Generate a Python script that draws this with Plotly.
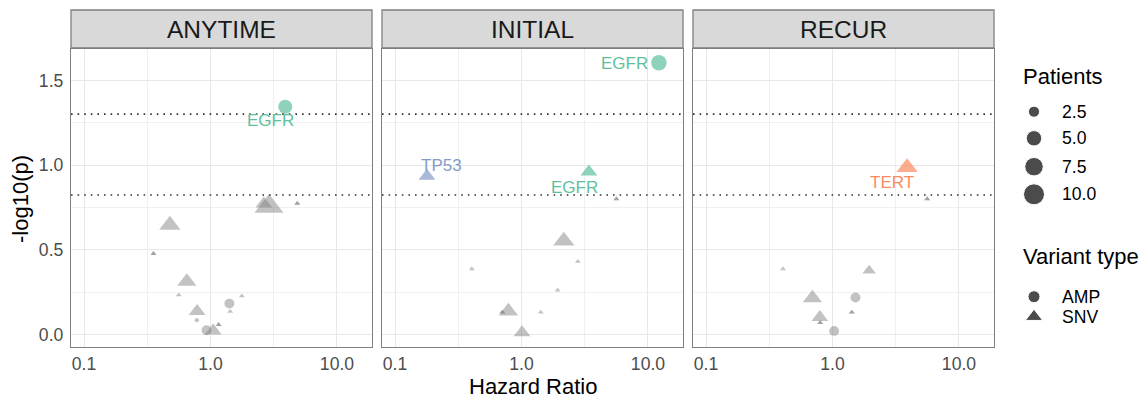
import numpy as np
import plotly.graph_objects as go

# ---------------- data ----------------
panels = ["ANYTIME", "INITIAL", "RECUR"]

anytime_hr = [3.90, 2.90, 2.64, 4.85, 4.85, 0.477, 0.354, 0.354, 0.650, 0.561, 0.784, 0.78, 1.41, 1.43, 1.77, 0.93, 1.05, 1.16, 1.16]
anytime_logp = [1.344, 0.756, 0.772, 0.774, 0.774, 0.646, 0.478, 0.478, 0.313, 0.234, 0.138, 0.085, 0.183, 0.136, 0.228, 0.026, 0.022, 0.059, 0.059]
anytime_patients = [4, 10, 3, 1, 1, 5, 1, 1, 4, 1, 3, 1, 2, 1, 1, 2, 3, 1, 1]
anytime_type = ["AMP", "SNV", "SNV", "SNV", "SNV", "SNV", "SNV", "SNV", "SNV", "SNV", "SNV", "AMP", "AMP", "SNV", "SNV", "AMP", "SNV", "SNV", "SNV"]
anytime_gene = ["EGFR"] + [""] * 18

initial_hr = [12.2, 0.179, 3.41, 5.63, 5.63, 2.16, 2.79, 0.405, 1.93, 0.788, 0.706, 0.706, 1.42, 1.01]
initial_logp = [1.604, 0.935, 0.961, 0.801, 0.801, 0.553, 0.431, 0.388, 0.262, 0.138, 0.132, 0.132, 0.132, 0.012]
initial_patients = [5, 3, 3, 1, 1, 5, 1, 1, 1, 4, 1, 1, 1, 3]
initial_type = ["AMP"] + ["SNV"] * 13
initial_gene = ["EGFR", "TP53", "EGFR"] + [""] * 11

recur_hr = [3.89, 5.61, 5.61, 0.406, 1.95, 0.694, 1.52, 0.794, 0.80, 0.80, 1.42, 1.42, 1.03]
recur_logp = [0.986, 0.801, 0.801, 0.388, 0.378, 0.215, 0.219, 0.102, 0.071, 0.071, 0.132, 0.132, 0.022]
recur_patients = [5, 1, 1, 1, 2, 4, 2, 3, 1, 1, 1, 1, 2]
recur_type = ["SNV", "SNV", "SNV", "SNV", "SNV", "SNV", "AMP", "SNV", "SNV", "SNV", "SNV", "SNV", "AMP"]
recur_gene = ["TERT"] + [""] * 12

thresholds = [1.301, 0.824]
x_ticks = [0.1, 1.0, 10.0]
x_ticktext = ["0.1", "1.0", "10.0"]
y_ticks = [0.0, 0.5, 1.0, 1.5]
y_ticktext = ["0.0", "0.5", "1.0", "1.5"]
patient_breaks = [2.5, 5.0, 7.5, 10.0]
variant_types = ["AMP", "SNV"]

# ---------------- styles ----------------
gene_colors = {"EGFR": "#5fbf9d", "TP53": "#869bc8", "TERT": "#fb8a5e"}
gray = "rgba(127,127,127,0.68)"
symbols = {"AMP": "circle", "SNV": "triangle-up"}
FONT = "Liberation Sans, Arial, sans-serif"
# label offsets (pixels) relative to the labelled point: (panel, gene, type) -> (xshift, yshift, xanchor)
label_offsets = {
    (0, "EGFR", "AMP"): (-15, -14, "center"),
    (1, "EGFR", "AMP"): (-9, -1, "right"),
    (1, "TP53", "SNV"): (14, 11, "center"),
    (1, "EGFR", "SNV"): (-14, -16, "center"),
    (2, "TERT", "SNV"): (-15, -15, "center"),
}

W, H = 1145, 398
ML, MB = 71, 51
PW, PH = W - ML, H - MB


def fx(px):
    return (px - ML) / PW


def fy(py):
    return (H - MB - py) / PH


def size_px(p, shape):
    d = 4.3 + 16.7 * np.sqrt((np.asarray(p, dtype=float) - 1) / 9)
    return d * (1.2 if shape == "SNV" else 1.0)


panel_px = [(71, 372), (382, 683), (693, 994)]
domains = [[fx(a), fx(b)] for a, b in panel_px]
ydom = [0, fy(49)]

datasets = [
    (anytime_hr, anytime_logp, anytime_patients, anytime_type, anytime_gene),
    (initial_hr, initial_logp, initial_patients, initial_type, initial_gene),
    (recur_hr, recur_logp, recur_patients, recur_type, recur_gene),
]

fig = go.Figure()
annotations = []
shapes = []

for i, (hr, lp, pt, vt, gn) in enumerate(datasets):
    xa = "x" if i == 0 else f"x{i+1}"
    ya = "y" if i == 0 else f"y{i+1}"
    for highlighted in (False, True):
        idx = [k for k in range(len(hr)) if (gn[k] != "") == highlighted]
        if not idx:
            continue
        fig.add_trace(go.Scatter(
            x=[hr[k] for k in idx], y=[lp[k] for k in idx],
            mode="markers", xaxis=xa, yaxis=ya, showlegend=False, hoverinfo="skip",
            marker=dict(
                symbol=[symbols[vt[k]] for k in idx],
                size=[float(size_px(pt[k], vt[k])) for k in idx],
                color=[gene_colors[gn[k]] if highlighted else gray for k in idx],
                line=dict(width=0),
            ),
        ))
    for k in range(len(hr)):
        if gn[k]:
            xs, ys, xanc = label_offsets[(i, gn[k], vt[k])]
            annotations.append(dict(
                x=np.log10(hr[k]), y=lp[k], xref=xa, yref=ya, text=gn[k], showarrow=False,
                xshift=xs, yshift=ys, xanchor=xanc, yanchor="middle",
                font=dict(family=FONT, size=17, color=gene_colors[gn[k]]),
            ))
    for t in thresholds:
        shapes.append(dict(type="line", xref=f"{xa} domain", yref=ya, x0=0, x1=1, y0=t, y1=t,
                           line=dict(color="#333333", width=1.6, dash="1.6px,5px"), layer="above"))
    # strip
    shapes.append(dict(type="rect", xref="paper", yref="paper", x0=domains[i][0], x1=domains[i][1],
                       y0=fy(48), y1=fy(10), fillcolor="#d9d9d9", line=dict(color="#7f7f7f", width=1.3)))
    annotations.append(dict(x=(domains[i][0] + domains[i][1]) / 2, y=fy(29), xref="paper", yref="paper",
                            text=panels[i], showarrow=False, xanchor="center", yanchor="middle",
                            font=dict(family=FONT, size=24.5, color="#1a1a1a")))

    axis_common = dict(showline=True, mirror=True, linecolor="#7f7f7f", linewidth=1.3,
                       showgrid=True, gridcolor="#e8e8e8", gridwidth=1.2, zeroline=False,
                       tickfont=dict(family=FONT, size=17.6, color="#4d4d4d"),
                       ticks="outside", tickcolor="rgba(0,0,0,0)")
    xkey = "xaxis" if i == 0 else f"xaxis{i+1}"
    ykey = "yaxis" if i == 0 else f"yaxis{i+1}"
    fig.update_layout({
        xkey: dict(axis_common, type="log", range=[-1.103, 1.277], domain=domains[i], anchor=ya,
                   tickmode="array", tickvals=x_ticks, ticktext=x_ticktext, ticklen=1,
                   minor=dict(tickvals=[10 ** -0.5, 10 ** 0.5], showgrid=True, gridcolor="#f0f0f0", gridwidth=0.8)),
        ykey: dict(axis_common, range=[-0.073, 1.685], domain=ydom, anchor=xa, ticklen=3,
                   tickmode="array", tickvals=y_ticks, ticktext=y_ticktext, showticklabels=(i == 0),
                   minor=dict(tickvals=[0.25, 0.75, 1.25], showgrid=True, gridcolor="#f0f0f0", gridwidth=0.8)),
    })

# ---------------- custom legend (pixel-coordinate helper axes) ----------------
fig.update_layout(
    xaxis4=dict(domain=[fx(1000), 1], range=[1000, 1145], visible=False, anchor="y4", fixedrange=True),
    yaxis4=dict(domain=[0, 1], range=[H - MB, 0], visible=False, anchor="x4", fixedrange=True),
)
leg_x_marker, leg_x_text, leg_x_title = 1034, 1060, 1021
size_rows = [111.7, 138.3, 166.7, 194.3]
type_rows = [296.7, 316.7]
fig.add_trace(go.Scatter(
    x=[leg_x_marker] * len(patient_breaks), y=size_rows, xaxis="x4", yaxis="y4", mode="markers",
    showlegend=False, hoverinfo="skip",
    marker=dict(symbol="circle", color="black", size=[float(size_px(p, "AMP")) for p in patient_breaks]),
))
fig.add_trace(go.Scatter(
    x=[leg_x_marker] * 2, y=type_rows, xaxis="x4", yaxis="y4", mode="markers",
    showlegend=False, hoverinfo="skip",
    marker=dict(symbol=[symbols[v] for v in variant_types], color="black", size=[12, 15]),
))
annotations.append(dict(x=leg_x_title, y=76.7, xref="x4", yref="y4", text="Patients", showarrow=False,
                        xanchor="left", yanchor="middle", font=dict(family=FONT, size=22, color="black")))
annotations.append(dict(x=leg_x_title, y=256.7, xref="x4", yref="y4", text="Variant type", showarrow=False,
                        xanchor="left", yanchor="middle", font=dict(family=FONT, size=22, color="black")))
for p, yy in zip(patient_breaks, size_rows):
    annotations.append(dict(x=leg_x_text, y=yy, xref="x4", yref="y4", text=f"{p:.1f}", showarrow=False,
                            xanchor="left", yanchor="middle", font=dict(family=FONT, size=17.6, color="black")))
for v, yy in zip(variant_types, type_rows):
    annotations.append(dict(x=leg_x_text, y=yy, xref="x4", yref="y4", text=v, showarrow=False,
                            xanchor="left", yanchor="middle", font=dict(family=FONT, size=17.6, color="black")))

# axis titles
annotations.append(dict(x=fx(532.5), y=fy(386), xref="paper", yref="paper", text="Hazard Ratio",
                        showarrow=False, xanchor="center", yanchor="middle",
                        font=dict(family=FONT, size=22, color="black")))
annotations.append(dict(x=fx(20), y=fy(199), xref="paper", yref="paper", text="-log10(p)", textangle=-90,
                        showarrow=False, xanchor="center", yanchor="middle",
                        font=dict(family=FONT, size=22, color="black")))

fig.update_layout(
    width=W, height=H, margin=dict(l=ML, r=0, t=0, b=MB),
    paper_bgcolor="white", plot_bgcolor="white",
    showlegend=False, annotations=annotations, shapes=shapes,
    font=dict(family=FONT),
)

fig.write_html(
    "out.html",
    config={"displayModeBar": False},
    post_script="document.body.style.margin='0';document.body.style.overflow='hidden';",
)
